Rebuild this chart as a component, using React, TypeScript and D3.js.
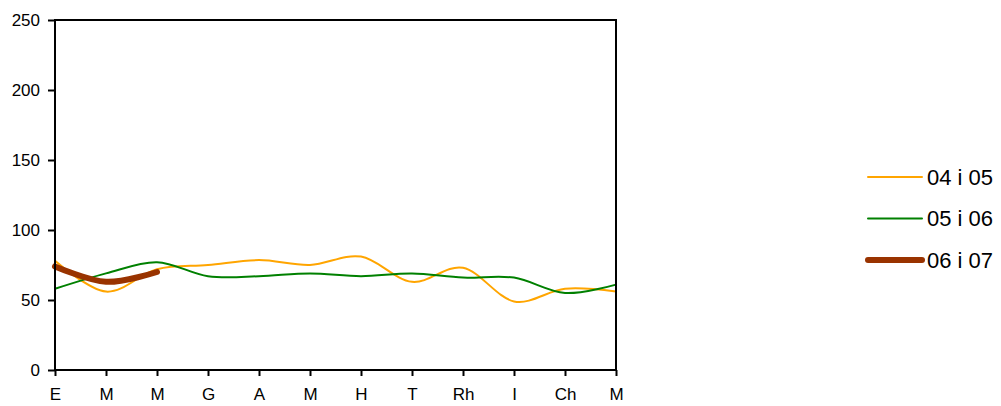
import React, { useEffect, useRef } from "react";
import * as d3 from "d3";

const months = ["E", "M", "M", "G", "A", "M", "H", "T", "Rh", "I", "Ch", "M"];
const yTicks = [0, 50, 100, 150, 200, 250];

const s0405 = [78, 56, 72, 75, 78.5, 75, 81, 63, 73, 49, 58, 56];
const s0506 = [58, 69, 77, 67, 67, 69, 67, 69, 66, 66, 55, 61];
const s0607 = [74, 63, 70];

const seriesNames = ["04 i 05", "05 i 06", "06 i 07"];
const seriesColors = ["#FFA500", "#008000", "#993300"];
const seriesWidths = [2, 2, 6];

const App: React.FC = () => {
  const svgRef = useRef<SVGSVGElement>(null);

  useEffect(() => {
    if (!svgRef.current) return;
    const svg = d3.select(svgRef.current);
    svg.selectAll("*").remove();

    const left = 55, top = 20, right = 616, bottom = 370;
    const font = "Liberation Sans, Arial, sans-serif";

    const x = d3.scalePoint<number>().domain(d3.range(months.length)).range([left, right]);
    const y = d3.scaleLinear().domain([0, 250]).range([bottom, top]);

    const allSeries = [s0405, s0506, s0607];
    const line = d3
      .line<number>()
      .x((d, i) => x(i) || 0)
      .y((d) => y(d))
      .curve(d3.curveCatmullRom.alpha(0));

    allSeries.forEach((s, k) => {
      svg
        .append("path")
        .datum(s)
        .attr("fill", "none")
        .attr("stroke", seriesColors[k])
        .attr("stroke-width", seriesWidths[k])
        .attr("stroke-linecap", "round")
        .attr("d", line);
    });

    // frame
    svg
      .append("rect")
      .attr("x", left)
      .attr("y", top)
      .attr("width", right - left)
      .attr("height", bottom - top)
      .attr("fill", "none")
      .attr("stroke", "#000")
      .attr("stroke-width", 2);

    const yAxis = svg
      .append("g")
      .attr("transform", `translate(${left},0)`)
      .call(d3.axisLeft(y).tickValues(yTicks).tickSize(7).tickPadding(8));
    yAxis.select(".domain").remove();
    yAxis.selectAll("line").attr("stroke", "#000").attr("stroke-width", 2);
    yAxis.selectAll("text").attr("font-family", font).attr("font-size", 17).attr("fill", "#000");

    const xAxis = svg
      .append("g")
      .attr("transform", `translate(0,${bottom})`)
      .call(
        d3
          .axisBottom(x)
          .tickFormat((d) => months[d as number])
          .tickSize(6)
          .tickPadding(12)
      );
    xAxis.select(".domain").remove();
    xAxis.selectAll("line").attr("stroke", "#000").attr("stroke-width", 2);
    xAxis.selectAll("text").attr("font-family", font).attr("font-size", 17).attr("fill", "#000");

    // legend
    const legend = svg.append("g");
    seriesNames.forEach((name, k) => {
      const ly = 177 + k * 41.5;
      legend
        .append("line")
        .attr("x1", 868)
        .attr("x2", 922)
        .attr("y1", ly)
        .attr("y2", ly)
        .attr("stroke", seriesColors[k])
        .attr("stroke-width", seriesWidths[k])
        .attr("stroke-linecap", "round");
      legend
        .append("text")
        .attr("x", 927)
        .attr("y", ly)
        .attr("dy", "0.36em")
        .attr("font-family", font)
        .attr("font-size", 22)
        .attr("fill", "#000")
        .text(name);
    });
  }, []);

  return (
    <svg
      ref={svgRef}
      width={1001}
      height={406}
      style={{ position: "absolute", left: 0, top: 0, background: "#fff" }}
    ></svg>
  );
};

export default App;
